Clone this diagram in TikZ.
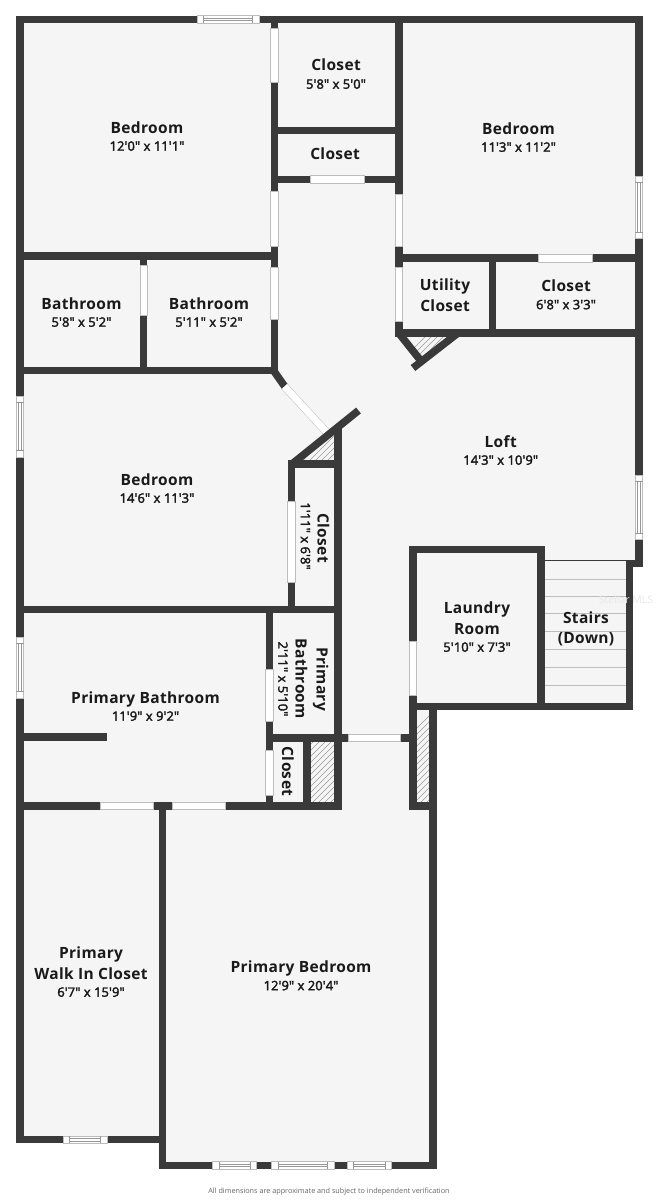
\documentclass[tikz,border=0pt]{standalone}
\usepackage{fontspec}
\newfontfamily\lblfont[LetterSpace=2.2]{Open Sans}
\newfontfamily\dimfont[FakeBold=2.6,LetterSpace=0.8]{Open Sans}
\newfontfamily\notefont{Open Sans}
\definecolor{wallc}{HTML}{3A3A3A}
\definecolor{floorc}{HTML}{F5F5F5}
\definecolor{edgec}{HTML}{BDBDBD}
\definecolor{hatchc}{HTML}{9A9A9A}
\definecolor{textc}{HTML}{1A1A1A}
\tikzset{
  wall/.style={fill=wallc,draw=none},
  diagwall/.style={draw=wallc,line width=7.5pt},
  opening/.style={fill=white,draw=edgec,line width=0.5pt},
  winline/.style={draw=edgec!80!black,line width=0.5pt},
  hatchline/.style={draw=hatchc,line width=0.45pt},
  stairline/.style={draw=edgec,line width=0.8pt},
  rname/.style={inner sep=0pt,text=textc,text height=11pt,text depth=0pt,font=\fontsize{15.5}{18}\lblfont\bfseries},
  rdim/.style={inner sep=0pt,text=textc,text height=9.4pt,text depth=0pt,font=\fontsize{12.9}{15}\dimfont},
}
% horizontal / vertical wall rectangle
\newcommand{\wl}[4]{\fill[wall] (#1,#2) rectangle (#3,#4);}
\newcommand{\dr}[4]{\path[opening] (#1,#2) rectangle (#3,#4);}
% horizontal window x1 y1 x2 y2
\newcommand{\hwin}[4]{%
  \path[opening] (#1,#2) rectangle (#3,#4);
  \path[winline] ({#1+6.5},#2) -- ({#1+6.5},#4) ({#3-6.5},#2) -- ({#3-6.5},#4);
  \path[winline] ({#1+6.5},{#2+2.4}) -- ({#3-6.5},{#2+2.4});
  \path[winline] ({#1+6.5},{#2+5}) -- ({#3-6.5},{#2+5});}
\newcommand{\vwin}[4]{%
  \path[opening] (#1,#2) rectangle (#3,#4);
  \path[winline] (#1,{#2+6.5}) -- (#3,{#2+6.5}) (#1,{#4-6.5}) -- (#3,{#4-6.5});
  \path[winline] ({#1+2.4},{#2+6.5}) -- ({#1+2.4},{#4-6.5});
  \path[winline] ({#1+5},{#2+6.5}) -- ({#1+5},{#4-6.5});}
\begin{document}
\begin{tikzpicture}[x=1pt,y=-1pt]
\useasboundingbox (0,0) rectangle (658,1200);
\fill[white] (0,0) rectangle (658,1200);
% floor
\fill[floorc] (16,16) -- (643,16) -- (643,566) -- (626,566) -- (626,710) -- (437,710)
  -- (437,1169) -- (158.5,1169) -- (158.5,1143) -- (16,1143) -- cycle;
% hatches
\begin{scope}
  \clip (406,337) -- (447,337) -- (421.5,356.5) -- cycle;
  \foreach \k in {0,...,12} \path[hatchline] ({400+\k*6},362) -- ({400+\k*6+30},332);
\end{scope}
\begin{scope}
  \clip (304,460) -- (334,460) -- (334,435) -- cycle;
  \foreach \k in {0,...,12} \path[hatchline] ({296+\k*6},462) -- ({296+\k*6+30},432);
\end{scope}
\begin{scope}
  \clip (311,741.7) rectangle (334,802.5);
  \foreach \k in {0,...,16} \path[hatchline] ({280+\k*6},805) -- ({280+\k*6+30},775);
  \foreach \k in {0,...,16} \path[hatchline] ({280+\k*6},775) -- ({280+\k*6+30},745);
  \foreach \k in {0,...,16} \path[hatchline] ({280+\k*6},745) -- ({280+\k*6+30},715);
\end{scope}
\begin{scope}
  \clip (416.7,710) rectangle (429.3,802);
  \foreach \k in {0,...,24} \path[hatchline] ({400+\k*6-60},805) -- ({400+\k*6+50},695);
\end{scope}
% stairs
\foreach \y in {579,596.7,613.7,631.7,649.3,667.3,685}
  \path[stairline] (545,\y) -- (626,\y);
\path[draw=wallc,line width=1pt] (545,560.5) -- (626,560.5);
% outer walls
\wl{16}{15.5}{643}{23}
\wl{16}{15.5}{23.5}{1143.3}
\wl{635.3}{15.5}{642.7}{566.7}
\wl{625.7}{560}{642.7}{566.7}
\wl{625.7}{560}{632.7}{710}
\wl{16}{1135.7}{166}{1143.3}
\wl{158.5}{803}{166.3}{1169}
\wl{158.5}{1161.5}{437}{1169}
\wl{429.3}{702.7}{437}{1169}
% laundry and stair block
\wl{409.3}{545.7}{545}{553.3}
\wl{537.3}{545.7}{545}{710}
\wl{409.3}{545.7}{416.7}{810}
\wl{409.3}{702.7}{632.7}{710}
\wl{409.3}{802}{437}{810}
% top-left rooms
\wl{270.7}{15.5}{278}{374}
\wl{16}{252.3}{278}{260}
\wl{140}{252.3}{147.3}{374}
\wl{16}{366.7}{278}{374}
\wl{278}{126.7}{395}{134}
\wl{278}{175.7}{395}{183.3}
% top-right rooms
\wl{395}{15.5}{402.7}{335}
\wl{395}{254.3}{643}{262.3}
\wl{489}{254.3}{496.3}{337}
\wl{395}{329.3}{643}{337}
\draw[diagwall] (398.7,333) -- (421,361);
\draw[diagwall] (458,333) -- (413,368);
% centre
\draw[diagwall] (273.5,370.5) -- (285.5,387.5);
\draw[edgec,line width=8pt] (284.5,386.5) -- (326.5,432);
\draw[white,line width=7pt] (284.5,386.5) -- (326.5,432);
\draw[diagwall] (292,464) -- (358.5,410.5);
\wl{334}{428}{341.7}{809.7}
\wl{287.7}{460}{295.3}{613}
\wl{287.7}{460}{341.7}{467.7}
\wl{16}{606}{341.7}{613.3}
\wl{265.7}{606}{273.3}{809.7}
\wl{265.7}{734}{348.3}{741.7}
\wl{400.7}{734.3}{409.3}{741.7}
\wl{23}{733.3}{106.7}{741}
\wl{303.3}{741}{311}{809.7}
\wl{16}{802.3}{341.7}{809.7}
% doors
\dr{270.7}{28.3}{278}{82.3}
\dr{270.7}{191.3}{278}{246.7}
\dr{270.7}{267.3}{278}{319.3}
\dr{140}{265.7}{147.3}{315.7}
\dr{310.7}{175.7}{364.3}{183.3}
\dr{395}{194}{402.7}{246}
\dr{395}{267.3}{402.7}{321.3}
\dr{538.3}{254.3}{592.7}{262.3}
\dr{287.7}{501.7}{295.3}{582.3}
\dr{265.7}{669.3}{273.3}{721.7}
\dr{265.7}{750}{273.3}{795}
\dr{348.3}{734.3}{400.7}{741.7}
\dr{409.3}{641}{416.7}{695.7}
\dr{100.7}{802.3}{153.3}{809.7}
\dr{172.3}{802.3}{225.7}{809.7}
% windows
\hwin{197}{15.5}{259}{23}
\hwin{63}{1136}{107}{1143.3}
\hwin{212.3}{1161.7}{256.7}{1169}
\hwin{271.3}{1161.7}{334}{1169}
\hwin{347}{1161.7}{391.7}{1169}
\vwin{16}{396}{23.5}{457}
\vwin{16}{637}{23.5}{698}
\vwin{635.3}{176}{642.7}{238.7}
\vwin{635.3}{475}{642.7}{539.3}
% labels
\node[rname] (n1) at (147,127.5) {Bedroom};
\node[rdim] (d1) at (147,146) {12'0" x 11'1"};
\node[rname] (n2) at (336,65) {Closet};
\node[rdim] (d2) at (336,84) {5'8" x 5'0"};
\node[rname] (n3) at (335,154) {Closet};
\node[rname] (n4) at (518.5,129) {Bedroom};
\node[rdim] (d4) at (518.5,147) {11'3" x 11'2"};
\node[rname] (n5) at (81.5,303.5) {Bathroom};
\node[rdim] (d5) at (81.5,322) {5'8" x 5'2"};
\node[rname] (n6) at (209,303.5) {Bathroom};
\node[rdim] (d6) at (209,322) {5'11" x 5'2"};
\node[rname] (n7a) at (445,285) {Utility};
\node[rname] (n7b) at (445,306) {Closet};
\node[rname] (n8) at (566,286) {Closet};
\node[rdim] (d8) at (566,304.5) {6'8" x 3'3"};
\node[rname] (n9) at (157,479.5) {Bedroom};
\node[rdim] (d9) at (157,498) {14'6" x 11'3"};
\node[rname,rotate=-90] (n10) at (323,538) {Closet};
\node[rdim,rotate=-90] (d10) at (305.5,536) {1'11" x 6'8"};
\node[rname] (n11) at (500.7,441.5) {Loft};
\node[rdim] (d11) at (500.7,460) {14'3" x 10'9"};
\node[rname] (n12a) at (477,608) {Laundry};
\node[rname] (n12b) at (477,628.5) {Room};
\node[rdim] (d12) at (477,647) {5'10" x 7'3"};
\node[rname] (n13a) at (586,617.5) {Stairs};
\node[rname] (n13b) at (586,638) {(Down)};
\node[rname] (n14) at (145.5,697.5) {Primary Bathroom};
\node[rdim] (d14) at (145.5,716) {11'9" x 9'2"};
\node[rname,rotate=-90] (n15a) at (322,679) {Primary};
\node[rname,rotate=-90] (n15b) at (301,679) {Bathroom};
\node[rdim,rotate=-90] (d15) at (283,679) {2'11" x 5'10"};
\node[rname,rotate=-90] (n16) at (287.5,771.5) {Closet};
\node[rname] (n17a) at (91,952.5) {Primary};
\node[rname] (n17b) at (91,973.5) {Walk In Closet};
\node[rdim] (d17) at (91,992) {6'7" x 15'9"};
\node[rname] (n18) at (301,966.5) {Primary Bedroom};
\node[rdim] (d18) at (301,985.5) {12'9" x 20'4"};
\node[inner sep=0pt,text=black!60,font=\fontsize{7.25}{9}\notefont] (note) at (329,1192)
  {All dimensions are approximate and subject to independent verification};
\node[inner sep=0pt,text=black!9,font=\fontsize{10.5}{13}\notefont] (wm) at (626,600) {Stellar MLS};
\end{tikzpicture}
\end{document}
